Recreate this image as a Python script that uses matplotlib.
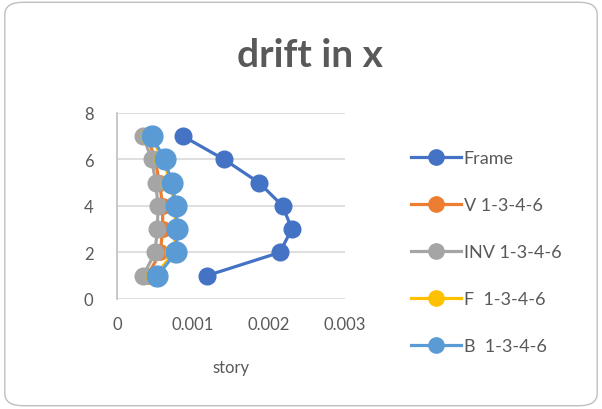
import matplotlib
matplotlib.use("Agg")
import matplotlib.pyplot as plt
from matplotlib.patches import FancyBboxPatch

plt.rcParams['font.family'] = ['Lato', 'DejaVu Sans']

stories = [1, 2, 3, 4, 5, 6, 7]
frame = [0.00118, 0.00214, 0.0023, 0.00218, 0.00187, 0.00141, 0.00087]
v_1346 = [0.00040, 0.00057, 0.00060, 0.00060, 0.00056, 0.00050, 0.00040]
inv_1346 = [0.000345, 0.00050, 0.00053, 0.00054, 0.00051, 0.000456, 0.000345]
f_1346 = [0.00050, 0.00075, 0.00077, 0.00076, 0.00070, 0.00061, 0.00044]
b_1346 = [0.00053, 0.00078, 0.00079, 0.00078, 0.00072, 0.00063, 0.000456]

series = [
    ("Frame", frame, "#4472C4", 12),
    ("V 1-3-4-6", v_1346, "#ED7D31", 11),
    ("INV 1-3-4-6", inv_1346, "#A5A5A5", 12),
    ("F  1-3-4-6", f_1346, "#FFC000", 13),
    ("B  1-3-4-6", b_1346, "#5B9BD5", 15),
]

fig = plt.figure(figsize=(6.02, 4.10), dpi=100)
bg = FancyBboxPatch((0.008, 0.008), 0.984, 0.984,
                    boxstyle="round,pad=0,rounding_size=0.03",
                    transform=fig.transFigure, facecolor="white",
                    edgecolor="#BFBFBF", linewidth=1.0, zorder=-10)
fig.patches.append(bg)

ax = fig.add_axes([0.1944, 0.2683, 0.3787, 0.4537])
ax.set_facecolor("none")
handles = []
for name, vals, col, ms in series:
    h, = ax.plot(vals, stories, color=col, lw=2.3, marker='o', markersize=ms,
                 label=name, clip_on=False)
    handles.append(h)

ax.set_xlim(0, 0.003)
ax.set_ylim(0, 8)
ax.set_xticks([0, 0.001, 0.002, 0.003])
ax.set_xticklabels(["0", "0.001", "0.002", "0.003"])
ax.set_yticks([0, 2, 4, 6, 8])
ax.yaxis.grid(True, color="#D9D9D9", lw=1.2)
ax.set_axisbelow(True)
for s in ["top", "right", "bottom"]:
    ax.spines[s].set_visible(False)
ax.spines["left"].set_color("#BFBFBF")
ax.spines["left"].set_linewidth(1.2)
ax.tick_params(length=0, labelsize=12, labelcolor="#595959")
ax.tick_params(axis="x", pad=12)
ax.tick_params(axis="y", pad=17)
ax.set_xlabel("story", fontsize=12, color="#595959", labelpad=20)

fig.text(0.515, 0.865, "drift in x", ha="center", va="center",
         fontsize=28, fontweight="bold", color="#595959")

leg = fig.legend(handles=handles, loc="upper left", bbox_to_anchor=(0.682, 0.632),
                 frameon=False, fontsize=13, labelcolor="#595959",
                 handlelength=2.8, handletextpad=0.15, labelspacing=1.72,
                 borderaxespad=0, borderpad=0)
for lh in leg.legend_handles:
    lh.set_markersize(11)

fig.savefig("out.png", dpi=100)
